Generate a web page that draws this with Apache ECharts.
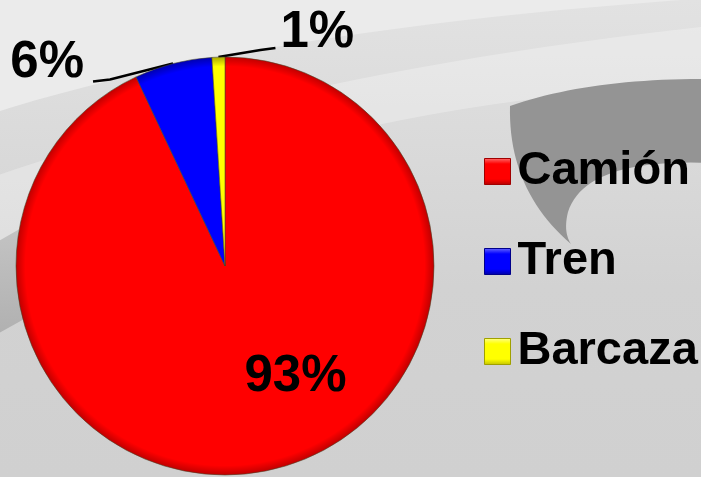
<!DOCTYPE html>
<html>
<head>
<meta charset="utf-8">
<script src="https://cdn.jsdelivr.net/npm/echarts@6/dist/echarts.min.js"></script>
<style>
  html, body { margin: 0; padding: 0; background: #d4d4d4; }
  #chart { width: 701px; height: 477px; }
</style>
</head>
<body>
<div id="chart"></div>
<script>
// Modal split of freight transport (share of total, %)
const categories = ['Camión', 'Tren', 'Barcaza'];
const shares = [93, 6, 1];

// Slice colours, their darker rims and the bevelled legend swatches
const sliceColors = ['#ff0000', '#0000ff', '#ffff00'];
const rimColors = ['#c00000', '#0000b0', '#a8a800'];
const swatchTop = ['#ff7070', '#6a6aff', '#ffff90'];
const swatchBottom = ['#b00000', '#0000a0', '#c0c000'];
const swatchBorder = ['#a00000', '#00008a', '#a0a000'];

const FONT = '"Liberation Sans", Arial, Helvetica, sans-serif';
const CX = 225, CY = 266, R = 209;

// Points along a quadratic Bezier curve, used for the background swooshes
function quad(p0, c, p1, n) {
  const pts = [];
  const steps = n || 24;
  for (let i = 0; i <= steps; i++) {
    const t = i / steps, u = 1 - t;
    pts.push([
      u * u * p0[0] + 2 * u * t * c[0] + t * t * p1[0],
      u * u * p0[1] + 2 * u * t * c[1] + t * t * p1[1]
    ]);
  }
  return pts;
}

const topSheen = [[-10, -10], [711, -10]]
  .concat(quad([711, -2], [260, 28], [-10, 114]));
const midBand = quad([-10, 178], [300, 70], [711, 26])
  .concat(quad([711, 84], [330, 100], [-10, 248]));
const leftShade = [[-10, 246], [140, 160], [160, 250], [26, 318], [-10, 338]];
const crescent = quad([510, 106], [590, 78], [711, 79])
  .concat([[711, 163]])
  .concat(quad([711, 163], [585, 158], [568, 212]))
  .concat(quad([568, 212], [563, 232], [571, 244]))
  .concat(quad([571, 244], [508, 190], [510, 106]));

const chart = echarts.init(document.getElementById('chart'), null, { renderer: 'canvas' });

function radialFill(i) {
  return {
    type: 'radial', x: CX, y: CY, r: R, global: true,
    colorStops: [
      { offset: 0, color: sliceColors[i] },
      { offset: 0.955, color: sliceColors[i] },
      { offset: 1, color: rimColors[i] }
    ]
  };
}

function swatch(i) {
  return {
    type: 'linear', x: 0, y: 0, x2: 0, y2: 1,
    colorStops: [
      { offset: 0, color: swatchTop[i] },
      { offset: 0.22, color: sliceColors[i] },
      { offset: 0.78, color: sliceColors[i] },
      { offset: 1, color: swatchBottom[i] }
    ]
  };
}

const option = {
  backgroundColor: {
    type: 'linear', x: 0, y: 0, x2: 0, y2: 1,
    colorStops: [
      { offset: 0, color: '#e2e2e2' },
      { offset: 0.6, color: '#d2d2d2' },
      { offset: 1, color: '#d0d0d0' }
    ]
  },
  animation: false,
  graphic: {
    elements: [
      { type: 'polygon', z: -10, silent: true, shape: { points: topSheen }, style: { fill: '#ebebeb' } },
      { type: 'polygon', z: -10, silent: true, shape: { points: midBand }, style: { fill: 'rgba(255,255,255,0.28)' } },
      { type: 'polygon', z: -10, silent: true, shape: { points: leftShade },
        style: { fill: { type: 'linear', x: 0, y: 0, x2: 0, y2: 1,
          colorStops: [{ offset: 0, color: '#cfcfcf' }, { offset: 1, color: '#b0b0b0' }] } } },
      { type: 'polygon', z: -10, silent: true, shape: { points: crescent }, style: { fill: '#949494' } }
    ]
  },
  legend: {
    orient: 'vertical',
    left: 479,
    top: 143,
    itemWidth: 26,
    itemHeight: 26,
    itemGap: 43,
    icon: 'rect',
    selectedMode: false,
    data: categories.map((name, i) => ({
      name: name,
      itemStyle: { color: swatch(i), borderColor: swatchBorder[i], borderWidth: 1 }
    })),
    formatter: name => '{t|' + name + '}',
    textStyle: {
      color: '#000',
      rich: {
        t: { fontFamily: FONT, fontWeight: 'bold', fontSize: 47, lineHeight: 50, color: '#000', padding: [0, 0, 0, 2] }
      }
    }
  },
  series: [{
    type: 'pie',
    center: [CX, CY],
    radius: R,
    startAngle: 90,
    clockwise: true,
    avoidLabelOverlap: false,
    itemStyle: { borderColor: 'rgba(70,70,40,0.55)', borderWidth: 1 },
    label: {
      show: true,
      position: 'outside',
      formatter: p => p.value + '%',
      fontFamily: FONT,
      fontWeight: 'bold',
      fontSize: 51,
      color: '#000'
    },
    labelLine: { show: true, lineStyle: { color: '#000', width: 2.5 } },
    emphasis: { disabled: true },
    labelLayout: function (p) {
      const a = p.labelLinePoints ? p.labelLinePoints[0] : null;
      if (p.dataIndex === 0) {
        return { dx: 47, dy: 6 };
      }
      if (!a) return {};
      if (p.dataIndex === 1) {
        return {
          x: a[0] - 89, y: a[1] - 1, align: 'right', verticalAlign: 'middle',
          labelLinePoints: [a, [a[0] - 63, a[1] + 16], [a[0] - 80, a[1] + 18]]
        };
      }
      return {
        x: a[0] + 62, y: a[1] - 24, align: 'left', verticalAlign: 'middle',
        labelLinePoints: [a, [a[0] + 42, a[1] - 7], [a[0] + 57, a[1] - 9]]
      };
    },
    data: categories.map((name, i) => ({
      name: name,
      value: shares[i],
      itemStyle: { color: radialFill(i) },
      label: i === 0 ? { position: 'inside' } : {},
      labelLine: i === 0 ? { show: false } : {}
    }))
  }]
};

chart.setOption(option);
</script>
</body>
</html>
